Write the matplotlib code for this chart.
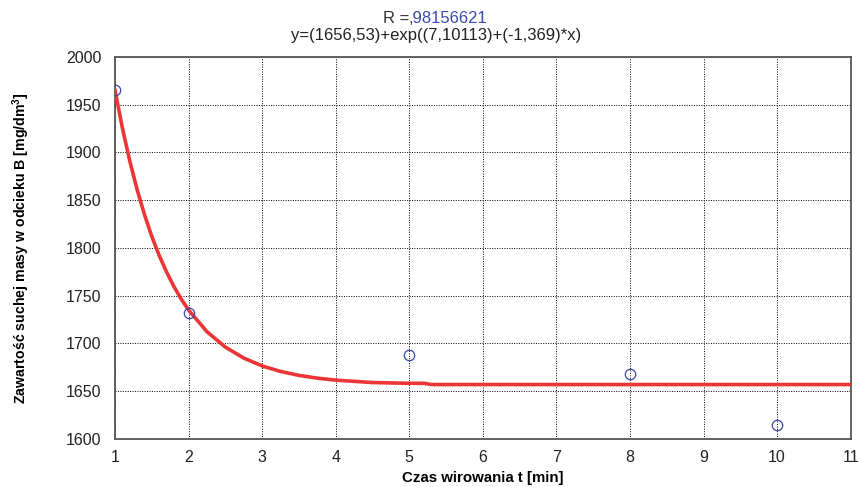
import matplotlib as mpl
mpl.use('agg')
from matplotlib import pyplot as plt
from matplotlib import font_manager

# measured points
t_meas = [1, 2, 5, 8, 10]
b_meas = [1965, 1732, 1688, 1668, 1615]

# fitted curve
t_fit = [1.0, 1.1, 1.2, 1.3, 1.4, 1.5, 1.6, 1.7, 1.8, 1.9, 2.0, 2.25, 2.5, 2.75,
         3.0, 3.25, 3.5, 3.75, 4.0, 4.5, 5.0, 5.2, 5.3, 6.0, 11.0]
b_fit = [1965, 1925.6, 1891.2, 1861.2, 1835, 1812.1, 1792.2, 1774.9, 1759.7, 1746.5, 1735,
         1712.3, 1696.2, 1684.7, 1676.5, 1670.7, 1666.6, 1663.7, 1661.6, 1659.1, 1658.3,
         1658.3, 1657, 1657, 1657]

title_r = 'R ='
title_r_val = ',98156621'
title_eq = 'y=(1656,53)+exp((7,10113)+(-1,369)*x)'
x_label = 'Czas wirowania t [min]'
y_label = 'Zawartość suchej masy w odcieku B [mg/dm$^\\mathregular{3}$]'

names = {f.name for f in font_manager.fontManager.ttflist}
narrow = 'Liberation Sans Narrow' if 'Liberation Sans Narrow' in names else 'Liberation Sans'
plt.rcParams['font.family'] = ['Liberation Sans', 'DejaVu Sans']

fig = plt.figure(figsize=(8.61, 4.87), dpi=100)
ax = fig.add_axes([0.1336, 0.0986, 0.8544, 0.7844])

ax.plot(t_fit, b_fit, color='#ec3535', linewidth=2.6, zorder=3)
ax.plot(t_meas, b_meas, linestyle='none', marker='o', markersize=7.5,
        markerfacecolor='none', markeredgecolor='#3a48b0', markeredgewidth=0.9, zorder=4)

ax.set_xlim(1, 11)
ax.set_ylim(1600, 2000)
ax.set_xticks(range(1, 12))
ax.set_yticks(range(1600, 2001, 50))
ax.grid(True, color='black', linestyle=(0, (1, 1.5)), linewidth=0.7)
ax.tick_params(length=0, labelsize=11.5, colors='#222222')
ax.tick_params(axis='y', pad=10)
ax.tick_params(axis='x', pad=8)
for sp in ax.spines.values():
    sp.set_color('#555555')
    sp.set_linewidth(1.3)

ax.set_xlabel(x_label, fontsize=10.8, fontweight='bold', labelpad=4)
ax.set_ylabel(y_label, fontsize=10.2, fontweight='bold', family=[narrow, 'DejaVu Sans'])
# label centre at about 21 px from the left edge
ax.yaxis.set_label_coords((21 - 115) / (861 * 0.8544), 0.5)
ax.yaxis.label.set_va('center')

fig.text(0.475, 0.962, title_r, ha='right', va='center', fontsize=12, color='#333333')
fig.text(0.475, 0.962, title_r_val, ha='left', va='center', fontsize=12, color='#3a48b0')
fig.text(0.506, 0.927, title_eq, ha='center', va='center', fontsize=12, color='#222222')

fig.savefig('out.png', dpi=100)
